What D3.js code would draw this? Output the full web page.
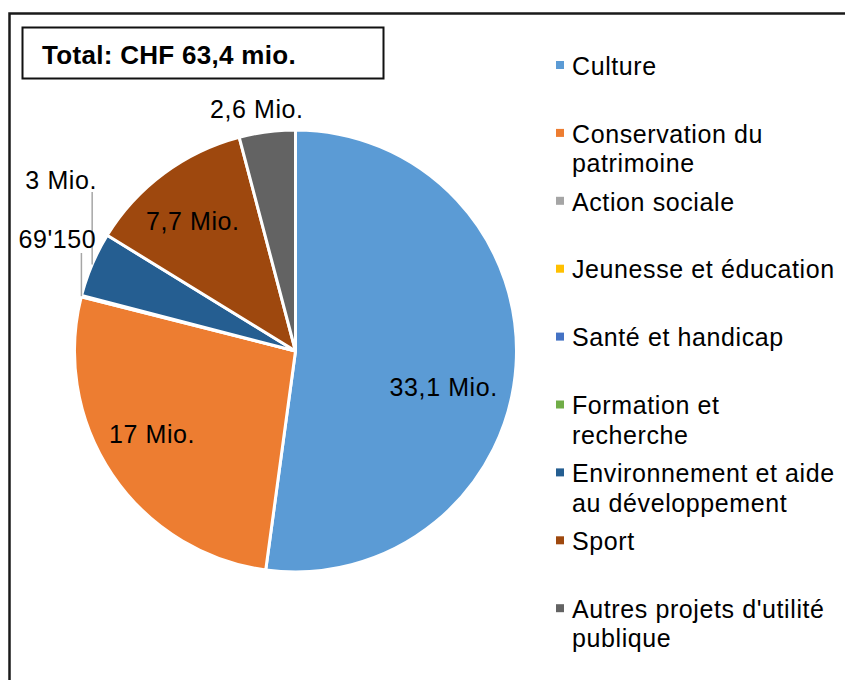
<!DOCTYPE html>
<html><head><meta charset="utf-8">
<script src="https://cdn.jsdelivr.net/npm/d3@7"></script>
<style>
html,body{margin:0;padding:0;background:#fff;}
text{font-family:"Liberation Sans",Arial,sans-serif;}
</style></head>
<body>
<svg id="chart" width="845" height="680"></svg>
<script>
// ---- data ----
const categories = ["Culture","Conservation du patrimoine","Action sociale","Jeunesse et éducation","Santé et handicap","Formation et recherche","Environnement et aide au développement","Sport","Autres projets d'utilité publique"];
const values = [33.1, 17, 0, 0, 0, 0.06915, 3, 7.7, 2.6];
const valueLabels = ["33,1 Mio.","17 Mio.","","","","69'150","3 Mio.","7,7 Mio.","2,6 Mio."];
const colors = ["#5b9bd5","#ed7d31","#a5a5a5","#ffc000","#4472c4","#70ad47","#255e91","#9e480e","#636363"];
const titleText = "Total: CHF 63,4 mio.";

const svg = d3.select("#chart");
const W = 845, H = 680;
const cx = 295.5, cy = 351, R = 221;

// outer frame
svg.append("path").attr("d", `M9.5,${H+5} L9.5,13.5 L${W+5},13.5`)
  .attr("fill","none").attr("stroke","#1a1a1a").attr("stroke-width",2.5);

// title box
svg.append("rect").attr("x",22.5).attr("y",27.5).attr("width",361).attr("height",51)
  .attr("fill","#fff").attr("stroke","#111").attr("stroke-width",2);
svg.append("text").attr("x",42).attr("y",64).attr("font-size",26).attr("font-weight","bold")
  .attr("letter-spacing",0.3).attr("fill","#000").text(titleText);

// pie
const data = categories.map((c,i)=>({cat:c, value:values[i], label:valueLabels[i], color:colors[i]}));
const pie = d3.pie().value(d=>d.value).sort(null);
const arcs = pie(data);
const arc = d3.arc().innerRadius(0).outerRadius(R);
const g = svg.append("g").attr("transform",`translate(${cx},${cy})`);
g.selectAll("path.slice").data(arcs.filter(a=>a.data.value>0)).join("path")
  .attr("class","slice").attr("d",arc).attr("fill",d=>d.data.color)
  .attr("stroke","#fff").attr("stroke-width",3).attr("stroke-linejoin","round");

// labels
const fs = 25, ls = 0.6;
function pt(angle, r){ return [r*Math.sin(angle), -r*Math.cos(angle)]; }
const mid = a => (a.startAngle + a.endAngle)/2;
// inside labels
const insideFactor = {0:[0.69, 0.17], 1:[0.75, 0.07], 7:[0.75, -0.03]}; // [radius factor, angle shift rad]
Object.keys(insideFactor).forEach(k=>{
  const a = arcs[+k]; const [rf, sh] = insideFactor[k];
  const [x,y] = pt(mid(a)+sh, R*rf);
  g.append("text").attr("x",x).attr("y",y).attr("dy","0.35em").attr("text-anchor","middle")
   .attr("font-size",fs).attr("letter-spacing",ls).attr("fill","#000").text(a.data.label);
});
// outside label: Autres
{
  const a = arcs[8];
  const [x,y] = pt(mid(a)-0.03, R+24);
  g.append("text").attr("x",x).attr("y",y).attr("dy","0.35em").attr("text-anchor","middle")
   .attr("font-size",fs).attr("letter-spacing",ls).attr("fill","#000").text(a.data.label);
}
// leader-line labels
function leader(a, topY, labelDx, labelBaseline){
  const [x,y] = pt(mid(a), R);
  g.append("line").attr("x1",x).attr("y1",y).attr("x2",x).attr("y2",topY)
   .attr("stroke","#a6a6a6").attr("stroke-width",1.5);
  g.append("text").attr("x",x+labelDx).attr("y",labelBaseline).attr("text-anchor","middle")
   .attr("font-size",fs).attr("letter-spacing",ls).attr("fill","#000").text(a.data.label);
}
leader(arcs[6], 192-cy, -31, 189-cy);
leader(arcs[5], 253-cy, -24, 248-cy);

// legend
const lx = 556, tx = 572, y0 = 66, step = 67.9, lh = 29.5, maxW = 268;
const leg = svg.append("g");
categories.forEach((c,i)=>{
  const yc = y0 + step*i;
  leg.append("rect").attr("x",lx).attr("y",yc-5).attr("width",8).attr("height",8).attr("fill",colors[i]);
  const t = leg.append("text").attr("x",tx).attr("y",yc)
    .attr("font-size",fs).attr("letter-spacing",ls).attr("fill","#000");
  const words = c.split(" ");
  let line = [];
  let ts = t.append("tspan").attr("x",tx).attr("dy","0.35em");
  words.forEach(w=>{
    line.push(w); ts.text(line.join(" "));
    if (ts.node().getComputedTextLength() > maxW && line.length>1){
      line.pop(); ts.text(line.join(" "));
      line=[w];
      ts = t.append("tspan").attr("x",tx).attr("dy",lh).text(w);
    }
  });
});
</script>
</body></html>
